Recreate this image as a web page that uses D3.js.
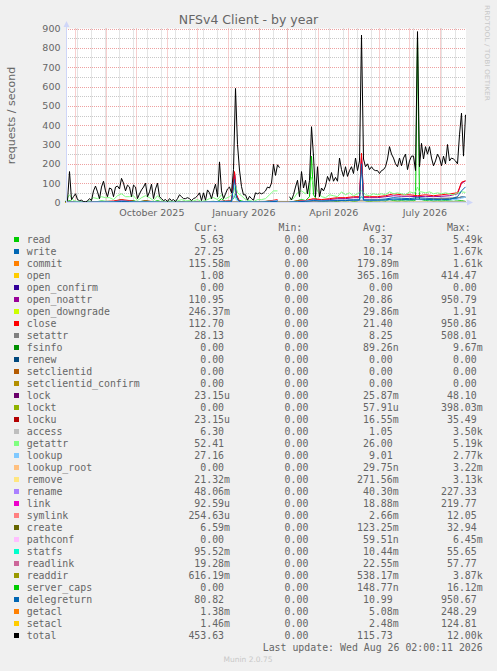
<!DOCTYPE html>
<html>
<head>
<meta charset="utf-8">
<script src="https://cdn.jsdelivr.net/npm/d3@7"></script>
<style>
body { margin: 0; background: #f0f0f0; }
svg text { fill: #666; font-family: "DejaVu Sans", sans-serif; }
svg text.mono { font-family: "DejaVu Sans Mono", monospace; font-size: 9.9px; }
</style>
</head>
<body>
<svg id="chart" width="497" height="671"></svg>
<script>
//Time range of the graph (munin "by year" = 400 days)
var endTime = new Date(2026, 7, 26, 2, 0, 11);
var startTime = d3.timeDay.offset(endTime, -400);

//Y axis ticks
var yTicks = [0, 100, 200, 300, 400, 500, 600, 700, 800, 900];

//Series names, colours and legend numbers
var seriesNames = ["read", "write", "commit", "open", "open_confirm", "open_noattr", "open_downgrade",
    "close", "setattr", "fsinfo", "renew", "setclientid", "setclientid_confirm", "lock", "lockt",
    "locku", "access", "getattr", "lookup", "lookup_root", "remove", "rename", "link", "symlink",
    "create", "pathconf", "statfs", "readlink", "readdir", "server_caps", "delegreturn", "getacl",
    "setacl", "total"];
var seriesColors = ["#00CC00", "#0066B3", "#FF8000", "#FFCC00", "#330099", "#990099", "#CCFF00",
    "#FF0000", "#808080", "#008F00", "#00487D", "#B35A00", "#B38F00", "#6B006B", "#8FB300",
    "#B30000", "#BEBEBE", "#80FF80", "#80C9FF", "#FFC080", "#FFE680", "#AA80FF", "#EE00CC", "#FF8080",
    "#666600", "#FFBFFF", "#00FFCC", "#CC6699", "#999900", "#00CC00", "#0066B3", "#FF8000",
    "#FFCC00", "#000000"];
var curText = ["5.63", "27.25", "115.58m", "1.08", "0.00", "110.95", "246.37m", "112.70", "28.13",
    "0.00", "0.00", "0.00", "0.00", "23.15u", "0.00", "23.15u", "6.30", "52.41", "27.16", "0.00",
    "21.32m", "48.06m", "92.59u", "254.63u", "6.59m", "0.00", "95.52m", "19.28m", "616.19m", "0.00",
    "80.82", "1.38m", "1.46m", "453.63"];
var minText = seriesNames.map(function(){ return "0.00"; });
var avgText = ["6.37", "10.14", "179.89m", "365.16m", "0.00", "20.86", "29.86m", "21.40", "8.25",
    "89.26n", "0.00", "0.00", "0.00", "25.87m", "57.91u", "16.55m", "1.05", "26.00", "9.01", "29.75n",
    "271.56m", "40.30m", "18.88m", "2.66m", "123.25m", "59.51n", "10.44m", "22.55m", "538.17m",
    "148.77n", "10.99", "5.08m", "2.48m", "115.73"];
var maxText = ["5.49k", "1.67k", "1.61k", "414.47", "0.00", "950.79", "1.91", "950.86", "508.01",
    "9.67m", "0.00", "0.00", "0.00", "48.10", "398.03m", "35.49", "3.50k", "5.19k", "2.77k", "3.22m",
    "3.13k", "227.33", "219.77", "12.05", "32.94", "6.45m", "55.65", "57.77", "3.87k", "16.12m",
    "950.67", "248.29", "124.81", "12.00k"];

//Sample days (counted from the start of the graph) for the busier series
var fineDays = [0, 4, 8, 12, 16, 20, 24, 28, 32, 36, 40, 44, 48, 52, 56, 60, 64, 68, 72, 76,
    80, 84, 88, 92, 96, 100, 104, 108, 112, 116, 120, 124, 128, 132, 136, 140, 144, 148, 152, 156,
    160, 164, 168, 170, 172, 176, 180, 184, 188, 192, 196, 200, 204, 208, 212, 216, 220,
    224, 228, 232, 236, 240, 244, 246, 248, 252, 256, 260, 264, 268, 272, 276, 280, 284, 288,
    292, 296, 300, 304, 308, 312, 316, 320, 324, 328, 332, 336, 340, 344, 348, 350, 352, 354,
    356, 360, 364, 368, 372, 376, 380, 384, 388, 392, 396, 400];
var midDays = [0, 8, 16, 24, 32, 40, 48, 56, 64, 72, 80, 88, 96, 104, 112, 120, 128, 136, 144, 152,
    160, 166, 169, 171, 174, 180, 188, 196, 204, 212, 216, 224, 232, 240, 248, 256, 264, 272, 280,
    288, 294, 296, 298, 304, 312, 320, 328, 336, 344, 352, 360, 368, 376, 384, 392, 396, 400];

//Series samples (requests / second)
var totalVals = [5, 10, 160, 15, 30, 45, 15, 10, 12, 5,
    3, 8, 20, 10, 60, 85, 55, 20, 80, 110,
    60, 30, 75, 70, 30, 80, 85, 70, 125, 100,
    60, 90, 80, 30, 90, 80, 20, 45, 65, 80,
    100, 30, 55, 95, 20, 70, 100, 30, 20, 10,
    15, 5, 20, 10, 15, 5, 20, 40, 30, 20,
    20, 25, 20, 10, 20, 25, 35, 50, 10, 50,
    12, 65, 50, 20, 60, 95, 30, 210, 60, 20,
    45, 70, 80, 50, 170, 590, 300, 168, 82, 40,
    40, 12, 32, 20, 12, 50, 45, 50, 45, 50,
    60, 80, 75, 100, 197, 140, 195, 180, null, null,
    null, null, 30, 13, 40, 80, 115, 30, 160, 75,
    115, 45, 115, 392, 240, 30, 185, 30, 75, 60,
    85, 135, 110, 155, 110, 130, 110, 230, 170, 135,
    185, 135, 165, 185, 150, 230, 165, 215, 866, 225,
    185, 200, 170, 185, 170, 165, 165, 150, 165, 170,
    185, 225, 289, 250, 230, 200, 185, 230, 190, 230,
    250, 170, 215, 240, 240, 165, 884, 185, 306, 225,
    289, 250, 289, 230, 190, 215, 250, 230, 190, 240,
    200, 300, 215, 230, 225, 215, 200, 350, 462, 240,
    453.63];
var readVals = [2, 10, 3, 2, 2, 1, 2, 5, 5, 8, 6, 6, 4, 10, 15, 8, 8, 10, 3, 6,
    10, 6, 3, 10, 3, 1, 2, 1, 2, 4, 2, 3, 2, 4, 1, 3, 5, 6, 4, 20,
    5, 8, 20, 45, 15, 8, 3, 2, 1, 3, 3, 5, 8, 10, 10, null, null,
    3, 5, 10, 15, 10, 30, 240, 40, 8, 5, 5, 8, 6, 5, 10, 8, 10, 6,
    8, 30, 8, 6, 8, 8, 10, 8, 15, 10, 8, 10, 8, 10, 10, 12, 860, 15,
    15, 10, 12, 8, 10, 8, 10, 8, 6, 8, 10, 5.63];
var getattrVals = [5, 40, 10, 5, 5, 2, 8, 25, 20, 30, 25, 25, 15, 35, 45, 30, 30, 35, 10, 25,
    35, 25, 10, 35, 10, 5, 8, 5, 8, 15, 8, 10, 8, 15, 5, 10, 20, 25, 15, 40,
    20, 30, 50, 90, 50, 35, 15, 10, 5, 15, 15, 20, 40, 60, 60, null, null,
    15, 20, 50, 60, 45, 80, 130, 100, 60, 30, 25, 40, 35, 30, 55, 40, 50, 35,
    45, 60, 40, 35, 45, 40, 45, 40, 55, 45, 50, 45, 40, 55, 50, 55, 80, 55,
    55, 50, 55, 45, 50, 45, 50, 45, 40, 50, 55, 52.41];
var closeVals = [2, 3, 2, 2, 5, 5, 8, 15, 10, 3, 8, 5, 2, 1, 2, 2, 2, 2, 5, 5,
    8, 8, 160, 40, 5, 5, 3, 3, 8, 15, null, 3, 8, 10, 20, 15, 20, 25, 25,
    30, 30, 255, 30, 30, 30, 35, 45, 40, 40, 35, 40, 35, 40, 45, 50, 105, 112.7];
var writeVals = [2, 2, 2, 2, 4, 4, 5, 8, 6, 3, 5, 4, 2, 1, 2, 2, 2, 2, 4, 5,
    6, 6, 150, 35, 5, 5, 3, 3, 6, 10, null, 3, 5, 8, 12, 10, 10, 12, 12,
    15, 15, 230, 15, 15, 15, 18, 25, 22, 20, 25, 22, 20, 22, 20, 22, 30, 27.25];
var openNoattrVals = [1, 2, 1, 1, 3, 3, 5, 10, 7, 2, 5, 3, 1, 1, 1, 1, 1, 1, 3, 3,
    5, 5, 155, 38, 3, 3, 2, 2, 5, 10, null, 2, 5, 8, 15, 12, 15, 20, 20,
    25, 25, 240, 25, 25, 25, 30, 35, 32, 32, 30, 32, 30, 32, 35, 45, 100, 110.95];
var delegreturnVals = [1, 1, 1, 1, 2, 2, 3, 5, 4, 2, 3, 2, 1, 1, 1, 1, 1, 1, 2, 3,
    4, 4, 120, 30, 3, 3, 2, 2, 4, 6, null, 2, 4, 6, 10, 8, 9, 10, 10,
    12, 12, 200, 12, 12, 12, 14, 18, 16, 15, 18, 16, 15, 16, 15, 30, 60, 80.82];
var lookupVals = [2, 3, 2, 2, 4, 4, 5, 8, 6, 3, 5, 4, 2, 1, 2, 2, 2, 2, 4, 5,
    6, 6, 40, 12, 5, 5, 3, 3, 6, 10, null, 3, 5, 8, 12, 9, 9, 10, 10,
    12, 12, 30, 12, 12, 12, 13, 15, 14, 13, 15, 14, 13, 14, 14, 16, 22, 27.16];
var setattrVals = [2, 4, 5, 2, 3, 6, 5, 10, 14, 16, 28.13];
var accessVals = [0.5, 0.8, 1, 0.5, 0.8, 1.5, 1, 1.2, 1.5, 1.4, 6.3];
var commitVals = [0.1, 0.2, 0.2, 0.1, 0.3, 0.2, 0.1, 0.2, 0.2, 0.2, 0.1];
var openVals = [0.2, 0.3, 0.3, 0.2, 0.3, 0.5, 0.3, 0.4, 0.5, 0.4, 1.08];
var openDowngradeVals = [0, 0.02, 0.03, 0.02, 0.03, 0.05, 0.02, 0.03, 0.04, 0.03, 0.25];
var lockVals = [0, 0.02, 0.03, 0.02, 0.02, 0.04, 0.02, 0.03, 0.03, 0.03, 0];
var lockuVals = [0, 0.01, 0.02, 0.01, 0.02, 0.03, 0.01, 0.02, 0.02, 0.02, 0];
var removeVals = [0.1, 0.2, 0.3, 0.1, 0.2, 0.5, 0.3, 0.3, 0.4, 0.3, 0.02];
var renameVals = [0.02, 0.04, 0.05, 0.02, 0.03, 0.06, 0.04, 0.05, 0.05, 0.04, 0.05];
var linkVals = [0, 0.02, 0.02, 0.01, 0.02, 0.03, 0.02, 0.02, 0.03, 0.02, 0];
var createVals = [0.05, 0.1, 0.15, 0.05, 0.1, 0.2, 0.1, 0.15, 0.15, 0.1, 0.01];
var statfsVals = [0.01, 0.01, 0.01, 0.01, 0.01, 0.02, 0.01, 0.01, 0.01, 0.01, 0.1];
var readlinkVals = [0.01, 0.02, 0.03, 0.01, 0.02, 0.03, 0.02, 0.02, 0.03, 0.02, 0.02];
var readdirVals = [0.3, 0.5, 0.6, 0.3, 0.4, 0.8, 0.5, 0.6, 0.7, 0.6, 0.62];
var zeroVals = [0, 0, 0, 0, 0, 0, 0, 0, 0, 0, 0];

var seriesValues = [readVals, writeVals, commitVals, openVals, zeroVals, openNoattrVals,
    openDowngradeVals, closeVals, setattrVals, zeroVals, zeroVals, zeroVals, zeroVals, lockVals,
    zeroVals, lockuVals, accessVals, getattrVals, lookupVals, zeroVals, removeVals, renameVals,
    linkVals, zeroVals, createVals, zeroVals, statfsVals, readlinkVals, readdirVals, zeroVals,
    delegreturnVals, zeroVals, zeroVals, totalVals];

//Either explicit sample days, or a fixed step in days
function daysFor(i){
    var vals = seriesValues[i];
    if (vals === readVals || vals === getattrVals) return fineDays;
    if (vals === closeVals || vals === writeVals || vals === openNoattrVals ||
        vals === delegreturnVals || vals === lookupVals) return midDays;
    var step = (vals === totalVals) ? 2 : 40;
    return vals.map(function(v, j){ return j * step; });
}

var svg = d3.select("#chart");

//Scales
var x = d3.scaleTime().domain([startTime, endTime]).range([65.5, 465.5]);
var y = d3.scaleLinear().domain([0, 900]).range([202.5, 28.5]);

//Canvas
svg.append("rect").attr("x", 66).attr("y", 28.5).attr("width", 400).attr("height", 174)
    .attr("fill", "#ffffff");

//Minor grid
var minorY = d3.range(50, 900, 100);
svg.append("g").selectAll("line").data(minorY).enter().append("line")
    .attr("x1", 66).attr("x2", 466)
    .attr("y1", function(d){ return Math.round(y(d)) + 0.5; })
    .attr("y2", function(d){ return Math.round(y(d)) + 0.5; })
    .attr("stroke", "#c8c8c8").attr("stroke-dasharray", "1,1");

var minorX = d3.range(0, 30).map(function(k){ return d3.timeDay.offset(new Date(2025, 7, 3), 14 * k); })
    .filter(function(d){ return d < endTime; });
svg.append("g").selectAll("line").data(minorX).enter().append("line")
    .attr("x1", function(d){ return Math.round(x(d)) + 0.5; })
    .attr("x2", function(d){ return Math.round(x(d)) + 0.5; })
    .attr("y1", 28.5).attr("y2", 202.5)
    .attr("stroke", "#c8c8c8").attr("stroke-dasharray", "1,1");

//Major grid
svg.append("g").selectAll("line").data(yTicks.slice(1)).enter().append("line")
    .attr("x1", 66).attr("x2", 466)
    .attr("y1", function(d){ return Math.round(y(d)) + 0.5; })
    .attr("y2", function(d){ return Math.round(y(d)) + 0.5; })
    .attr("stroke", "#eea0a0").attr("stroke-dasharray", "1,1");

var months = d3.timeMonth.range(startTime, endTime);
svg.append("g").selectAll("line").data(months).enter().append("line")
    .attr("x1", function(d){ return Math.round(x(d)) + 0.5; })
    .attr("x2", function(d){ return Math.round(x(d)) + 0.5; })
    .attr("y1", 28.5).attr("y2", 202.5)
    .attr("stroke", "#eea0a0").attr("stroke-dasharray", "1,1");

//Y tick labels
svg.append("g").selectAll("text").data(yTicks).enter().append("text")
    .attr("x", 60.5).attr("y", function(d){ return y(d); }).attr("dy", "0.36em")
    .attr("text-anchor", "end").style("font-size", "9.5px")
    .text(function(d){ return d; });

//X labels every three months, centred half a month after the tick
var labelMonths = d3.timeMonth.every(3).range(startTime, endTime);
var fmt = d3.timeFormat("%B %Y");
svg.append("g").selectAll("text").data(labelMonths).enter().append("text")
    .attr("x", function(d){ return x(d3.timeHour.offset(d, 15 * 24 + 10)); }).attr("y", 215.5)
    .attr("text-anchor", "middle").style("font-size", "9.5px")
    .text(function(d){ return fmt(d); });

//Lines
var line = d3.line()
    .defined(function(d){ return d.v != null; })
    .x(function(d){ return x(d.t); })
    .y(function(d){ return y(d.v); });

seriesValues.forEach(function(vals, i){
    var days = daysFor(i);
    var pts = vals.map(function(v, j){
        return { t: d3.timeHour.offset(startTime, days[j] * 24), v: v };
    });
    svg.append("path").datum(pts)
        .attr("d", line)
        .attr("fill", "none")
        .attr("stroke", seriesColors[i])
        .attr("stroke-width", 1)
        .attr("stroke-linejoin", "round");
});

//Axes with arrows
var axisColor = "#CFD6F8";
svg.append("line").attr("x1", 66.5).attr("x2", 66.5).attr("y1", 26).attr("y2", 203)
    .attr("stroke", axisColor);
svg.append("line").attr("x1", 66).attr("x2", 468).attr("y1", 202.5).attr("y2", 202.5)
    .attr("stroke", axisColor);
svg.append("path").attr("d", "M63.5,27 L69.5,27 L66.5,21 Z").attr("fill", axisColor);
svg.append("path").attr("d", "M467,199.5 L467,205.5 L473,202.5 Z").attr("fill", axisColor);

//Title and axis label
svg.append("text").attr("x", 248.5).attr("y", 24).attr("text-anchor", "middle")
    .style("font-size", "12.5px").text("NFSv4 Client - by year");
svg.append("text").attr("transform", "translate(15,115.5) rotate(-90)")
    .attr("text-anchor", "middle").style("font-size", "11px").text("requests / second");
svg.append("text").attr("transform", "translate(485,5) rotate(90)")
    .attr("textLength", 96).attr("lengthAdjust", "spacingAndGlyphs")
    .style("font-size", "6.5px").style("fill", "#c8c8c8").text("RRDTOOL / TOBI OETIKER");

//Legend
var colRight = [230, 314.3, 398.7, 482.7];
var headers = ["Cur:", "Min:", "Avg:", "Max:"];
function pad(s){ return /[0-9]$/.test(s) ? s + "\u00a0" : s; }

var legend = svg.append("g");
headers.forEach(function(h, c){
    legend.append("text").attr("class", "mono").attr("x", colRight[c] - 12).attr("y", 231)
        .attr("text-anchor", "end").text(h);
});
seriesNames.forEach(function(name, i){
    var base = 243 + 12 * i;
    legend.append("rect").attr("x", 14).attr("y", base - 6).attr("width", 5).attr("height", 5)
        .attr("fill", seriesColors[i]);
    legend.append("text").attr("class", "mono").attr("x", 26.7).attr("y", base).text(name);
    [curText, minText, avgText, maxText].forEach(function(col, c){
        legend.append("text").attr("class", "mono").attr("x", colRight[c]).attr("y", base)
            .attr("text-anchor", "end").text(pad(col[i]));
    });
});
legend.append("text").attr("class", "mono").attr("x", 482.7).attr("y", 651)
    .attr("text-anchor", "end").text("Last update: Wed Aug 26 02:00:11 2026");

svg.append("text").attr("x", 248).attr("y", 662).attr("text-anchor", "middle")
    .style("font-size", "7.5px").style("fill", "#c8c8c8").text("Munin 2.0.75");
</script>
</body>
</html>
